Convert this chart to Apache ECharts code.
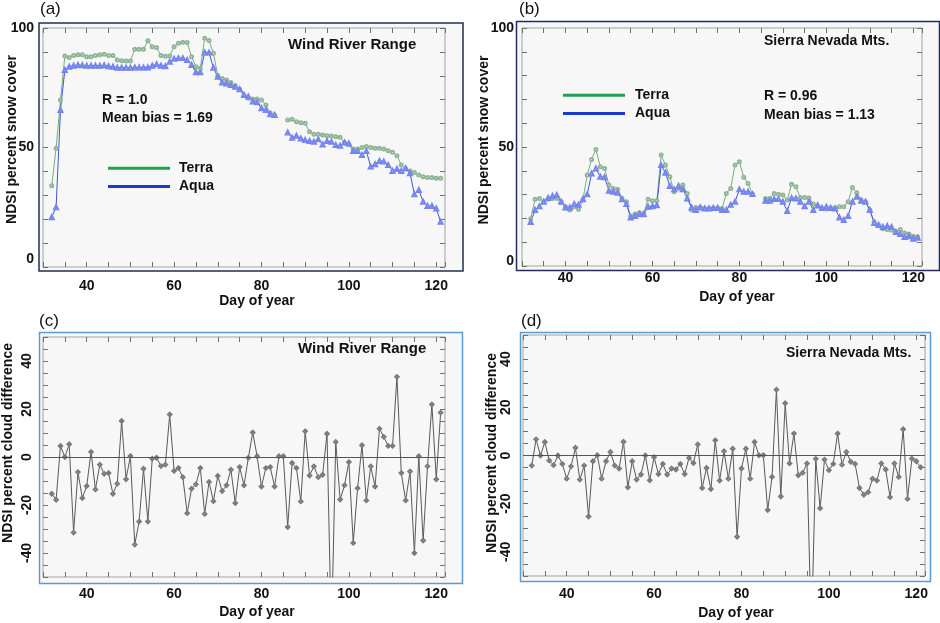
<!DOCTYPE html>
<html>
<head>
<meta charset="utf-8">
<script src="https://cdn.jsdelivr.net/npm/echarts/dist/echarts.min.js"></script>
<style>
  html, body { margin: 0; padding: 0; background: #fff; }
  #chart { width: 940px; height: 623px; }
</style>
</head>
<body>
<div id="chart"></div>
<script>
// day of year (x values shared by all four panels)
var days = [32, 33, 34, 35, 36, 37, 38, 39, 40, 41, 42, 43, 44, 45, 46, 47, 48, 49, 50, 51,
  52, 53, 54, 55, 56, 57, 58, 59, 60, 61, 62, 63, 64, 65, 66, 67, 68, 69, 70, 71,
  72, 73, 74, 75, 76, 77, 78, 79, 80, 81, 82, 83, 84, 85, 86, 87, 88, 89, 90, 91,
  92, 93, 94, 95, 96, 97, 98, 99, 100, 101, 102, 103, 104, 105, 106, 107, 108, 109, 110, 111,
  112, 113, 114, 115, 116, 117, 118, 119, 120, 121];

// (a) Wind River Range, NDSI percent snow cover
var terraWR = [34.0, 49.7, 69.9, 88.3, 87.7, 88.5, 88.8, 88.8, 88.0, 88.0, 88.5, 88.8, 89.0, 88.5, 88.5, 86.6, 86.3, 86.2, 86.2, 91.1,
  91.1, 91.1, 94.7, 92.2, 91.8, 88.5, 88.2, 88.3, 92.2, 93.6, 94.0, 93.9, 88.0, 83.8, 83.2, 95.7, 94.8, 89.4, 80.0, 78.9,
  78.2, 77.2, 75.8, 74.4, 71.8, 70.6, 70.3, 70.3, 69.9, 67.8, 64.4, 63.6, null, null, 61.5, 61.8, 60.8, 60.4, 60.1, 56.6,
  55.5, 55.5, 55.2, 54.9, 54.8, 54.5, 54.3, 52.0, 51.3, 49.4, 49.4, 50.0, 50.4, 50.0, 49.7, 49.7, 49.4, 48.6, 48.0, 46.6,
  42.7, 41.0, 40.2, 39.5, 38.5, 37.8, 37.4, 37.4, 37.1, 37.1];
var aquaWR = [20.8, 25.0, 65.7, 82.4, 83.8, 84.2, 84.5, 84.4, 84.2, 84.2, 84.2, 84.2, 84.4, 84.0, 83.8, 83.4, 83.4, 83.4, 83.4, 83.5,
  83.5, 83.5, 83.5, 84.2, 84.8, 84.2, 84.0, 85.9, 87.1, 87.4, 87.4, 86.6, 84.5, 81.5, 81.5, 89.8, 89.7, 83.4, 79.6, 77.2,
  76.8, 76.1, 75.4, 74.4, 72.0, 71.3, 69.2, 68.9, 66.4, 65.7, 63.9, 63.6, null, null, 56.3, 54.1, 54.9, 53.8, 53.1, 52.7,
  52.4, 53.4, 51.3, 52.7, 52.4, 51.0, 50.7, 52.1, 51.7, 48.5, 48.5, 46.9, 48.5, 42.0, 43.0, 44.4, 44.1, 42.7, 40.2, 41.0,
  40.2, 41.3, 39.2, 30.4, 32.2, 27.3, 25.5, 25.5, 24.5, 18.9];

// (b) Sierra Nevada Mts., NDSI percent snow cover
var terraSN = [19.9, 28.0, 28.4, 27.0, 28.0, 28.4, 28.4, 27.0, 24.9, 23.5, 24.9, 23.8, 27.7, 38.2, 44.8, 49.0, 41.7, 41.0, 34.0, 32.6,
  32.3, 28.4, 27.0, 21.0, 21.8, 22.4, 22.1, 28.0, 27.4, 27.4, 46.6, 42.4, 37.5, 31.2, 32.6, 34.0, 30.5, 23.5, 24.6, 24.6,
  24.2, 24.2, 24.4, 24.4, 24.2, 30.5, 32.6, 42.4, 43.8, 37.3, 34.7, 30.2, null, null, 28.4, 28.4, 30.5, 30.1, 29.8, 27.7,
  34.4, 33.3, 28.8, 28.8, 28.6, 26.0, 25.1, 24.2, 23.9, 24.4, 24.4, 24.9, 24.9, 27.0, 33.0, 30.8, 27.7, 27.0, 23.5, 18.6,
  17.2, 15.7, 15.3, 15.0, 14.3, 15.3, 13.9, 13.4, 12.5, 12.2];
var aquaSN = [18.5, 23.5, 25.1, 27.0, 28.6, 29.4, 29.8, 27.0, 24.6, 24.6, 26.1, 25.7, 28.0, 30.1, 38.9, 41.0, 37.5, 37.3, 31.6, 31.2,
  30.8, 28.0, 26.0, 20.4, 21.0, 21.8, 21.7, 24.9, 25.1, 25.5, 42.4, 39.2, 33.6, 32.2, 33.6, 32.2, 28.4, 24.6, 23.5, 24.6,
  24.2, 24.2, 24.4, 24.4, 23.5, 23.5, 25.7, 27.0, 32.2, 31.2, 31.2, 30.2, null, null, 27.4, 27.4, 28.1, 28.1, 27.0, 23.1,
  28.6, 28.4, 27.0, 25.1, 27.0, 23.5, 25.5, 24.4, 24.9, 24.4, 24.2, 20.4, 19.3, 21.0, 27.0, 29.1, 27.4, 27.0, 23.5, 18.1,
  17.2, 16.4, 16.8, 16.4, 14.3, 13.4, 12.2, 12.5, 11.5, 11.9];

// (c) Wind River Range, NDSI percent cloud difference
var cloudWR = [-15.3, -17.8, 4.6, 0, 5.3, -31.5, -6.3, -17.1, -12.1, 2.1, -13.5, -3.2, -7.0, -6.7, -15.3, -11.1, 15.0, -9.3, 0.4, -36.5,
  -26.9, -4.9, -26.9, -0.7, -0.3, -3.8, -3.2, 17.7, -5.8, -4.6, -8.4, -23.4, -13.2, -11.4, -4.6, -23.7, -10.4, -18.4, -7.9, -14.2,
  -11.8, -5.3, -19.2, -4.2, -11.8, -0.3, 10.2, 0.3, -12.3, -4.6, -4.2, -12.3, 0.3, 0.3, -29.2, -2.5, -4.6, -18.5, 10.7, -7.7,
  -3.9, -8.4, -7.4, 9.7, -75, 6.3, -17.7, -11.8, -2.1, -35.8, -13.0, 4.9, -18.1, -3.9, -12.3, 11.8, 8.4, 4.6, 4.6, 33.4,
  -6.7, -18.1, -6.0, -40.0, 0.3, -34.8, -3.9, 21.9, -9.3, 18.5];

// (d) Sierra Nevada Mts., NDSI percent cloud difference
var cloudSN = [-4.2, 6.7, 0, 5.6, -2.1, -4.0, 0, -3.5, -9.6, -4.5, 3.2, -10.0, -4.2, -25.3, -2.4, 0.1, -9.6, -2.4, 1.5, -4.2,
  -5.4, 5.7, -13.2, -2.4, -10.0, -7.9, 0, -10.3, -0.7, -7.7, -3.5, -7.9, -5.4, -5.8, -3.5, -7.7, -1.0, -3.1, 4.6, -13.5,
  -5.2, -13.9, 6.3, -10.4, 1.8, -9.6, 2.8, -33.7, -5.4, 2.8, -9.6, 5.6, 0.1, 0.1, -22.6, -8.9, 27.3, -17.0, 21.7, -3.3,
  9.1, -8.2, -7.2, -3.3, -75, -1.4, -21.9, -1.7, -6.1, -3.5, 9.1, -3.8, 1.5, -2.6, -3.5, -13.5, -16.3, -15.2, -9.6, -10.4,
  -3.3, -5.8, -17.3, -3.3, -8.9, 10.9, -18.0, -1.3, -2.4, -4.9];

var FONT = '"Liberation Sans", Arial, sans-serif';
var INK = '#111';

function pairs(vals) {
  return days.map(function (d, i) { return [d, vals[i] == null ? '-' : vals[i]]; });
}

function grid(l, t, w, h) {
  return { left: l, top: t, width: w, height: h, show: true, backgroundColor: '#f7f7f7',
    borderColor: '#a3a3a3', borderWidth: 1, outerBoundsMode: 'none' };
}

function tickStyle() {
  return { show: true, inside: true, length: 5, lineStyle: { color: '#707070', width: 1 } };
}

// bottom x axis with labels + name
function xBottom(gi, margin, gap, shift) {
  return {
    type: 'value', gridIndex: gi, position: 'bottom', min: 30, max: 122, interval: 5,
    axisLine: { show: false, onZero: false }, axisTick: tickStyle(), splitLine: { show: false },
    axisLabel: {
      margin: margin, color: INK, fontFamily: FONT, fontSize: 14, fontWeight: 'bold',
      formatter: function (v) { return (v % 20 === 0 && v >= 40) ? String(v) : ''; }
    },
    name: 'Day of year', nameLocation: 'middle', nameGap: gap, nameMoveOverlap: false,
    nameTextStyle: { color: INK, fontFamily: FONT, fontSize: 14, fontWeight: 'bold', padding: [0, 0, 0, shift] }
  };
}
// top x axis, ticks only
function xTop(gi) {
  return {
    type: 'value', gridIndex: gi, position: 'top', min: 30, max: 122, interval: 5,
    axisLine: { show: false, onZero: false }, axisTick: tickStyle(), splitLine: { show: false },
    axisLabel: { show: false }
  };
}
// left y axis for snow cover panels
function ySnow(gi, margin, gap, lift, zeroLift) {
  return {
    type: 'value', gridIndex: gi, position: 'left', min: 0, max: 100, interval: 10,
    axisLine: { show: false, onZero: false }, axisTick: tickStyle(), splitLine: { show: false },
    axisLabel: {
      margin: margin, color: INK, fontFamily: FONT, fontSize: 14, fontWeight: 'bold',
      formatter: function (v) {
        if (v === 0) return '{lo|0}';
        return v % 50 === 0 ? String(v) : '';
      },
      rich: { lo: { color: INK, fontFamily: FONT, fontSize: 14, fontWeight: 'bold', padding: [0, 0, zeroLift, 0] } }
    },
    name: 'NDSI percent snow cover', nameLocation: 'middle', nameGap: gap, nameMoveOverlap: false,
    nameTextStyle: { color: INK, fontFamily: FONT, fontSize: 14, fontWeight: 'bold', padding: [0, 0, 0, lift] }
  };
}
// left y axis for cloud difference panels
function yCloud(gi, margin, gap, lift) {
  return {
    type: 'value', gridIndex: gi, position: 'left', min: -50, max: 50, interval: 5,
    axisLine: { show: false, onZero: false }, axisTick: tickStyle(), splitLine: { show: false },
    axisLabel: {
      margin: margin, rotate: 90, color: INK, fontFamily: FONT, fontSize: 14, fontWeight: 'bold',
      formatter: function (v) { return (v % 20 === 0 && Math.abs(v) < 50) ? String(v) : ''; }
    },
    name: 'NDSI percent cloud difference', nameLocation: 'middle', nameGap: gap, nameMoveOverlap: false,
    nameTextStyle: { color: INK, fontFamily: FONT, fontSize: 14, fontWeight: 'bold', padding: [0, 0, 0, lift] }
  };
}
// right y axis, ticks only
function yRight(gi, min, max, step) {
  return {
    type: 'value', gridIndex: gi, position: 'right', min: min, max: max, interval: step,
    axisLine: { show: false, onZero: false }, axisTick: tickStyle(), splitLine: { show: false },
    axisLabel: { show: false }
  };
}

function terraSeries(ai, vals) {
  return {
    name: 'Terra', type: 'line', xAxisIndex: ai, yAxisIndex: ai, data: pairs(vals),
    symbol: 'emptyCircle', symbolSize: 3, lineStyle: { color: '#76ad80', width: 1 },
    itemStyle: { color: '#8fb596', borderWidth: 1 }, emphasis: { disabled: true }
  };
}
function aquaSeries(ai, vals) {
  return {
    name: 'Aqua', type: 'line', xAxisIndex: ai, yAxisIndex: ai, data: pairs(vals),
    symbol: 'emptyTriangle', symbolSize: 4, lineStyle: { color: '#3f52e2', width: 1 },
    itemStyle: { color: '#7585ee', borderWidth: 1 }, emphasis: { disabled: true }
  };
}
function cloudSeries(ai, vals) {
  return {
    name: 'cloud', type: 'line', xAxisIndex: ai, yAxisIndex: ai, data: pairs(vals),
    symbol: 'emptyDiamond', symbolSize: 3.5, lineStyle: { color: '#595959', width: 1 },
    itemStyle: { color: '#7a7a7a', borderWidth: 1 }, emphasis: { disabled: true },
    markLine: {
      silent: true, symbol: 'none', label: { show: false },
      lineStyle: { color: '#555', type: 'solid', width: 1 },
      data: [{ yAxis: 0 }]
    }
  };
}

function legendAt(left, top, textGap) {
  return {
    left: left, top: top, orient: 'vertical', icon: 'rect', itemWidth: 62, itemHeight: 3, itemGap: 4,
    padding: 0, selectedMode: false,
    textStyle: { color: INK, fontFamily: FONT, fontSize: 14, fontWeight: 'bold', lineHeight: 14.3, padding: [0, 0, 0, textGap] },
    data: [
      { name: 'Terra', itemStyle: { color: '#1fa24c', borderWidth: 0 } },
      { name: 'Aqua', itemStyle: { color: '#1a38d2', borderWidth: 0 } }
    ]
  };
}

function label(txt, x, y, size, weight) {
  return {
    type: 'text', x: x, y: y, z: 100,
    style: {
      text: txt, fill: INK, fontFamily: FONT, fontSize: size || 14, fontWeight: weight || 'bold',
      textVerticalAlign: 'middle', verticalAlign: 'middle'
    }
  };
}
function frame(x, y, w, h, color) {
  return {
    type: 'rect', z: -10, shape: { x: x, y: y, width: w, height: h },
    style: { fill: '#f7f7f7', stroke: color, lineWidth: 1.5 }
  };
}

var chart = echarts.init(document.getElementById('chart'));
var option = {
  animation: false,
  backgroundColor: '#ffffff',
  grid: [grid(43, 28, 402, 239), grid(522, 28, 400, 238), grid(43, 337, 402, 240), grid(523, 335, 402, 241)],
  xAxis: [
    xBottom(0, 12, 27, 26), xBottom(1, 5, 24, 30), xBottom(2, 10, 28, 26), xBottom(3, 11, 30, 24),
    xTop(0), xTop(1), xTop(2), xTop(3)
  ],
  yAxis: [
    ySnow(0, 9, 24, 16, 16), ySnow(1, 8, 31, 14, 10), yCloud(2, 9, 28, 28), yCloud(3, 10, 24, 5),
    yRight(0, 0, 100, 10), yRight(1, 0, 100, 10), yRight(2, -50, 50, 5), yRight(3, -50, 50, 5)
  ],
  legend: [legendAt(108, 161, 4), legendAt(563, 88, 5)],
  series: [
    terraSeries(0, terraWR), aquaSeries(0, aquaWR),
    terraSeries(1, terraSN), aquaSeries(1, aquaSN),
    cloudSeries(2, cloudWR), cloudSeries(3, cloudSN)
  ],
  graphic: [
    frame(39, 23, 424, 248, '#1f2f5a'),
    frame(516.5, 21.5, 423, 249, '#1f2f5a'),
    frame(39.5, 332.5, 423, 251, '#5b9bd5'),
    frame(520.5, 332.5, 410, 249, '#5b9bd5'),
    label('(a)', 40, 9, 17, 'normal'),
    label('(b)', 519, 9, 17, 'normal'),
    label('(c)', 39, 321, 17, 'normal'),
    label('(d)', 521, 321, 17, 'normal'),
    label('Wind River Range', 288, 45, 15),
    label('R = 1.0', 102, 100),
    label('Mean bias = 1.69', 102, 118),
    label('Sierra Nevada Mts.', 764, 41, 14),
    label('R = 0.96', 764, 96),
    label('Mean bias = 1.13', 764, 115),
    label('Wind River Range', 298, 349, 15),
    label('Sierra Nevada Mts.', 786, 353, 14)
  ]
};
chart.setOption(option);
</script>
</body>
</html>
